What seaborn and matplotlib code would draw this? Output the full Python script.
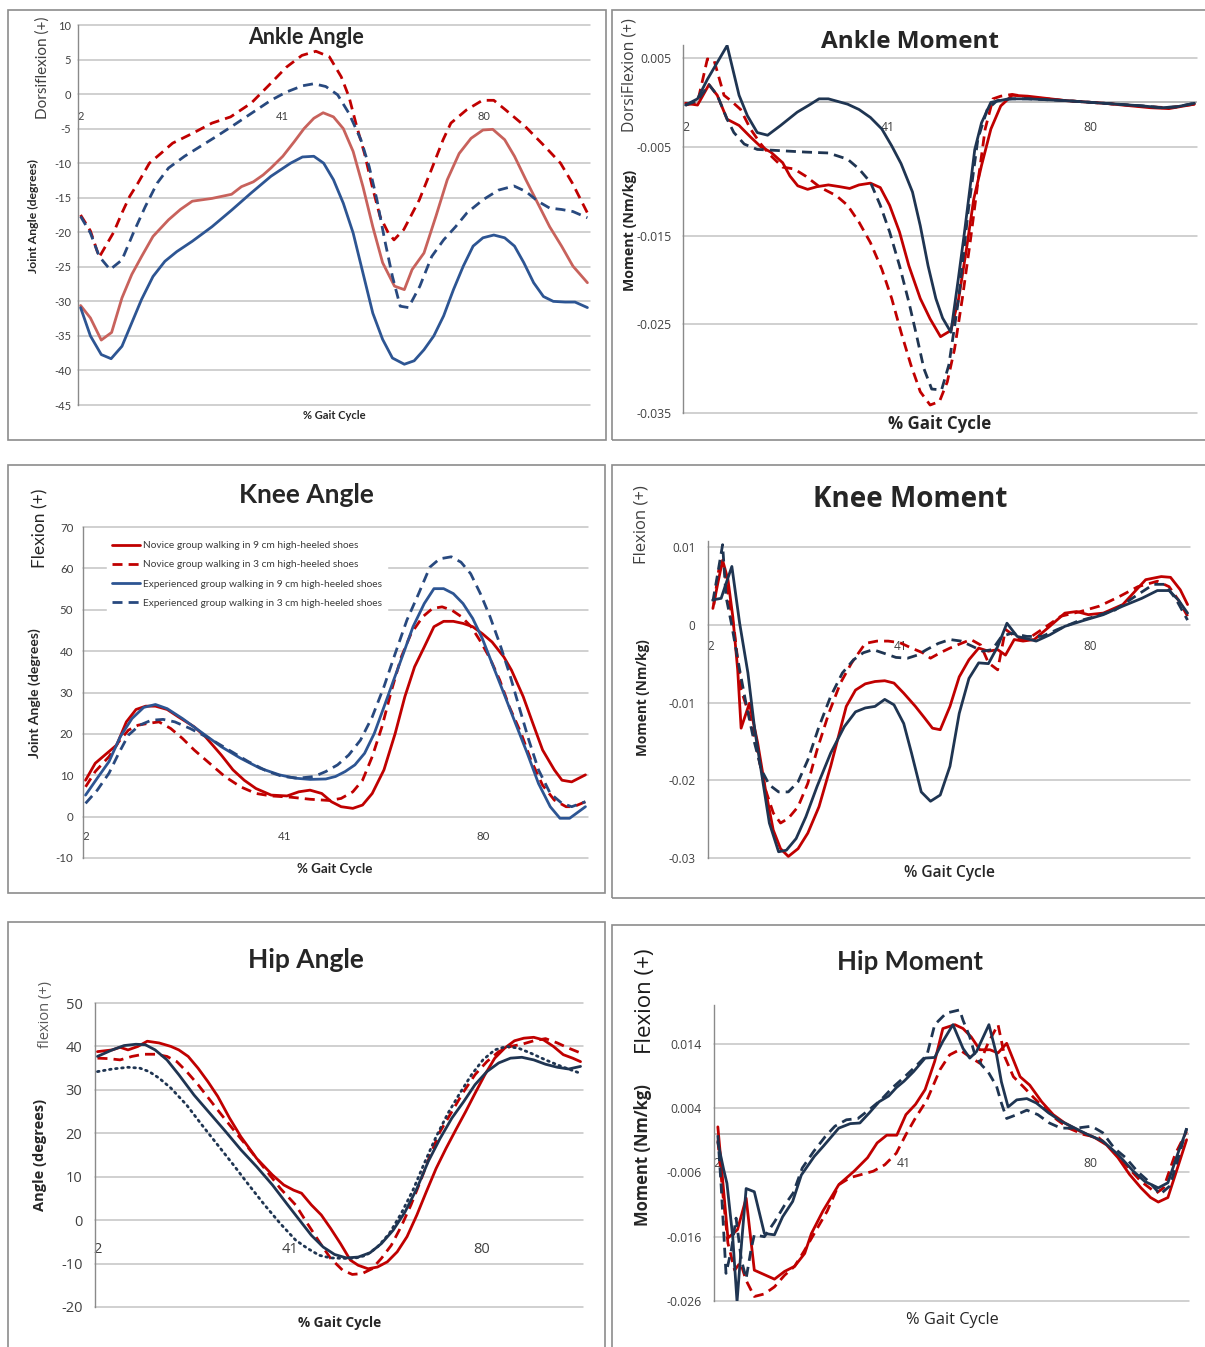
import matplotlib
matplotlib.use("Agg")
import matplotlib.pyplot as plt
from matplotlib.lines import Line2D
from matplotlib.patches import Rectangle
import seaborn as sns

sns.set_theme(style="white")
plt.rcParams['font.family'] = ['Lato', 'DejaVu Sans']

# ---------------------------------------------------------------- data
GAIT_TICKS = [2, 41, 80]
SERIES_NAMES = [
    "Novice group walking in 9 cm high-heeled shoes",
    "Novice group walking in 3 cm high-heeled shoes",
    "Experienced group walking in 9 cm high-heeled shoes",
    "Experienced group walking in 3 cm high-heeled shoes",
]

# Ankle angle (degrees)
AA_N9 = [(2, -30.6), (3.9, -32.4), (6, -35.6), (8, -34.5), (10, -29.5), (11.9, -26.1), (13.8, -23.5),
         (16, -20.6), (19, -18.2), (21.3, -16.7), (23.6, -15.5), (27.4, -15.1), (31.2, -14.5),
         (33.1, -13.4), (35.4, -12.7), (37.3, -11.7), (38.8, -10.7), (41.1, -9.0), (43.3, -6.9),
         (45.2, -5.0), (47.1, -3.5), (48.9, -2.7), (50.9, -3.3), (52.8, -5.0), (54.7, -8.3),
         (56.6, -13.4), (58.5, -19.2), (60.4, -24.4), (62.7, -27.8), (64.6, -28.3), (66.1, -25.4),
         (68.4, -23.0), (70.7, -17.7), (72.9, -12.4), (75.2, -8.6), (77.5, -6.4), (79.8, -5.2),
         (81.7, -5.1), (84, -6.6), (85.9, -9.0), (88.1, -12.4), (90.4, -15.8), (92.7, -19.2),
         (95, -22.0), (97.2, -24.9), (100, -27.3)]
AA_N3 = [(2, -17.5), (3.9, -19.8), (5.6, -23.6), (8.4, -20.0), (10, -17.2), (11.5, -14.8), (13, -13.0),
         (15.3, -10.0), (17.5, -8.6), (19.8, -7.1), (23.6, -5.7), (27.4, -4.2), (31, -3.3), (35, -1.3),
         (38.7, 1.5), (41.8, 3.9), (44.8, 5.6), (47.5, 6.2), (50.1, 5.4), (52.4, 2.5), (53.9, -0.4),
         (55.4, -4.7), (56.9, -8.6), (58.4, -13.4), (59.9, -17.7), (61.5, -20.1), (62.6, -21.1),
         (64.5, -19.6), (67.5, -15.3), (69.8, -11.0), (72.1, -6.6), (73.6, -4.2), (76.6, -2.3),
         (79.7, -0.9), (81.9, -0.9), (84.2, -2.3), (88, -4.7), (91.8, -7.6), (94.8, -10.0),
         (97.1, -12.9), (100, -17.2)]
AA_E9 = [(2, -30.9), (3.9, -35.0), (6, -37.7), (7.9, -38.3), (10, -36.5), (11.9, -33.1), (13.8, -29.7),
         (16, -26.4), (18.3, -24.2), (20.6, -22.8), (23.6, -21.3), (27.4, -19.2), (31.2, -16.8),
         (35, -14.3), (38.8, -11.9), (42.6, -10.0), (44.9, -9.1), (47.1, -9.0), (49, -10.0),
         (50.9, -12.4), (52.8, -15.8), (54.7, -20.1), (56.6, -25.9), (58.5, -31.7), (60.4, -35.5),
         (62.3, -38.2), (64.6, -39.1), (66.5, -38.6), (68.4, -37.0), (70.3, -35.0), (72.2, -32.1),
         (74.1, -28.3), (76, -24.9), (77.9, -22.0), (79.8, -20.8), (81.9, -20.4), (84, -20.8),
         (85.9, -22.0), (87.7, -24.4), (89.6, -27.3), (91.5, -29.3), (93.4, -30.0), (95.7, -30.1),
         (97.6, -30.1), (100, -30.9)]
AA_E3 = [(2, -17.7), (3.9, -20.1), (5.6, -23.5), (7.7, -25.4), (10, -24.0), (12.2, -20.1), (14.5, -16.3),
         (16.8, -12.9), (19, -10.7), (22.1, -9.0), (25.1, -7.6), (28.1, -6.2), (31.2, -4.7), (35, -2.8),
         (38.8, -0.9), (41.8, 0.3), (44.9, 1.2), (47.1, 1.5), (49.4, 1.1), (51.7, -0.1), (53.9, -2.8),
         (56.2, -6.6), (57.8, -10.5), (59.3, -15.3), (60.8, -21.1), (62.3, -26.4), (63.8, -30.7),
         (65.4, -30.9), (67.6, -27.8), (69.9, -23.5), (72.2, -21.1), (74.5, -19.2), (76.7, -17.2),
         (79.8, -15.3), (82.8, -13.9), (85.8, -13.3), (88.1, -14.1), (90.4, -15.5), (92.7, -16.5),
         (95, -16.7), (97.2, -17.0), (100, -17.9)]

# Ankle moment (Nm/kg)
AM_N9 = [(2, -0.0001), (4.3, -0.0003), (6.5, 0.0020), (8.1, 0.0008), (10, -0.0019), (12.3, -0.0026),
         (14.5, -0.0039), (16.5, -0.0050), (18.4, -0.0056), (20.7, -0.0068), (22.1, -0.0083),
         (23.6, -0.0094), (25.5, -0.0098), (27.3, -0.0095), (29.5, -0.0093), (31.7, -0.0095),
         (33.6, -0.0097), (35.4, -0.0093), (37.6, -0.0091), (39.5, -0.0096), (41.3, -0.0116),
         (43.2, -0.0146), (45, -0.0184), (47.2, -0.0221), (49.1, -0.0244), (51.1, -0.0264),
         (53.1, -0.0257), (54.6, -0.0221), (56.1, -0.0165), (57.5, -0.0109), (59, -0.0071),
         (60.8, -0.0030), (62.7, -0.0004), (64.9, 0.0008), (67.9, 0.0007), (75.2, 0.0002),
         (82.6, -0.0001), (91.5, -0.0006), (95.1, -0.0007), (100, -0.0002)]
AM_N3 = [(2, -0.0003), (4.3, 0.0000), (6.2, 0.0049), (7.5, 0.0047), (9.4, 0.0008), (10.7, 0.0002),
         (12.6, -0.0008), (14.5, -0.0030), (16.5, -0.0047), (18.4, -0.0060), (20.7, -0.0073),
         (22.9, -0.0075), (25.1, -0.0083), (28, -0.0096), (31, -0.0105), (33.2, -0.0116),
         (35.4, -0.0135), (37.6, -0.0158), (39.8, -0.0188), (41.7, -0.0221), (43.5, -0.0259),
         (45.4, -0.0296), (47.2, -0.0326), (49.1, -0.0341), (50.9, -0.0337), (52.4, -0.0315),
         (53.8, -0.0278), (55.3, -0.0221), (56.8, -0.0158), (58.3, -0.0090), (59.7, -0.0030),
         (61.2, 0.0004), (62.7, 0.0007), (64.9, 0.0009), (67.9, 0.0006), (75.2, 0.0002),
         (82.6, -0.0001), (91.5, -0.0005), (95.1, -0.0006), (100, -0.0002)]
AM_E9 = [(2, -0.0003), (4.3, 0.0004), (6.2, 0.0026), (10, 0.0064), (12.3, 0.0008), (13.9, -0.0015),
         (15.8, -0.0034), (17.8, -0.0037), (20.3, -0.0026), (23.5, -0.0011), (25.8, -0.0003),
         (27.7, 0.0004), (29.5, 0.0004), (33.2, -0.0002), (35.4, -0.0008), (37.6, -0.0017),
         (39.8, -0.0030), (41.7, -0.0049), (43.5, -0.0069), (45.7, -0.0101), (47.2, -0.0139),
         (48.7, -0.0184), (50.2, -0.0221), (51.5, -0.0243), (53.1, -0.0259), (54.5, -0.0200),
         (55.7, -0.0147), (57.7, -0.0053), (59, -0.0023), (60.8, 0.0000), (64.2, 0.0004),
         (67.9, 0.0004), (75.2, 0.0002), (82.6, -0.0001), (90, -0.0004), (93.7, -0.0006),
         (96.6, -0.0005), (100, -0.0001)]
AM_E3 = [(2, -0.0003), (4.3, 0.0002), (6.5, 0.0020), (8.1, 0.0008), (10, -0.0019), (11.3, -0.0034),
         (13.3, -0.0047), (15.8, -0.0053), (19, -0.0054), (25.1, -0.0056), (29.5, -0.0057),
         (33.2, -0.0064), (35.4, -0.0075), (37.6, -0.0090), (39.5, -0.0116), (41.3, -0.0146),
         (43.2, -0.0184), (45, -0.0225), (46.5, -0.0263), (47.9, -0.0300), (49.4, -0.0323),
         (51.3, -0.0324), (52.7, -0.0296), (54.6, -0.0221), (56.4, -0.0124), (58.3, -0.0041),
         (60.1, -0.0008), (62, 0.0002), (64.9, 0.0004), (67.9, 0.0004), (75.2, 0.0002),
         (82.6, -0.0001), (90, -0.0004), (93.7, -0.0006), (96.6, -0.0005), (100, -0.0001)]

# Knee angle (degrees)
KA_N9 = [(2, 8.8), (3.9, 12.9), (5.8, 14.9), (8.1, 17.3), (10, 22.9), (11.9, 25.9), (13.8, 26.7),
         (15.7, 26.7), (18, 25.9), (20.2, 24.1), (23.3, 21.7), (25.5, 19.3), (28.6, 14.9), (30.9, 11.3),
         (33.1, 8.8), (35.4, 6.8), (38.4, 5.2), (41.5, 5.0), (43.8, 6.0), (46, 6.4), (48.3, 5.6),
         (50.2, 3.6), (52.1, 2.4), (54.4, 2.0), (56.3, 2.8), (58.2, 5.6), (60.5, 11.3), (62.7, 20.1),
         (64.6, 29.0), (66.5, 36.2), (68.4, 41.0), (70.3, 45.9), (72.2, 47.2), (74.1, 47.2),
         (76, 46.7), (77.9, 45.9), (79.8, 44.2), (81.7, 42.2), (84, 38.6), (85.5, 35.4), (87.8, 29.0),
         (89.7, 22.5), (91.6, 16.1), (93.9, 11.3), (95.4, 8.8), (97.3, 8.4), (100, 10.1)]
KA_N3 = [(2, 7.2), (3.9, 10.9), (6.6, 14.5), (8.5, 18.1), (10.4, 20.9), (12.3, 22.1), (14.1, 22.5),
         (16.4, 22.9), (18.7, 21.3), (21, 18.9), (23.3, 16.1), (26.3, 12.9), (29.3, 9.7), (32.4, 7.2),
         (35.4, 5.6), (38.4, 5.0), (42.2, 4.7), (46, 4.2), (49.8, 3.9), (52.1, 4.4), (54.4, 6.0),
         (56.3, 8.8), (58.2, 14.5), (60.1, 21.7), (62, 30.6), (63.9, 38.6), (65.8, 44.2), (68.1, 48.3),
         (70, 50.3), (71.9, 50.7), (73.8, 49.9), (75.7, 48.3), (77.6, 45.9), (79.5, 42.2), (81.3, 38.2),
         (83.2, 33.0), (85.1, 26.5), (87.4, 20.1), (89.3, 13.7), (91.6, 7.6), (93.9, 4.0), (96.2, 2.4),
         (97.7, 2.4), (100, 3.6)]
KA_E9 = [(2, 5.2), (4.3, 9.3), (6.6, 13.3), (8.8, 19.3), (11.1, 23.7), (13.4, 26.4), (15.7, 27.1),
         (18, 26.1), (21, 23.7), (24.8, 20.3), (28.6, 16.9), (32.4, 14.1), (36.2, 11.7), (40, 10.1),
         (43, 9.3), (46, 9.0), (49.1, 9.1), (51, 9.7), (52.9, 10.9), (54.8, 12.5), (56.7, 15.3),
         (58.6, 20.1), (60.5, 26.5), (62.4, 33.0), (64.3, 39.4), (66.2, 45.9), (68.4, 51.5), (70.3, 55.1),
         (72.2, 55.1), (74.1, 53.9), (76, 51.5), (77.9, 47.9), (79.8, 43.0), (81.7, 37.0), (84, 29.8),
         (86.3, 22.5), (88.6, 15.3), (90.8, 8.0), (93.1, 2.4), (95, -0.4), (96.9, -0.4), (100, 2.4)]
KA_E3 = [(2, 3.2), (4.3, 6.4), (6.6, 10.5), (8.5, 15.3), (10.4, 19.7), (12.6, 22.1), (14.9, 23.3),
         (17.2, 23.5), (19.5, 22.9), (22.5, 21.3), (26.3, 18.9), (30.1, 16.1), (33.9, 13.3), (37.7, 10.9),
         (40.7, 9.7), (43.8, 9.3), (46.8, 9.7), (49.1, 10.9), (51.4, 12.5), (53.6, 14.9), (55.9, 18.5),
         (58.2, 24.1), (60.5, 31.4), (62.7, 39.4), (65, 47.5), (67.3, 53.9), (69.5, 60.3), (71.4, 62.3),
         (73.7, 62.8), (75.6, 61.5), (77.5, 58.7), (79.4, 53.9), (81.3, 48.3), (83.2, 41.8), (85.1, 34.6),
         (87, 26.5), (88.9, 18.5), (90.8, 11.3), (93.1, 5.6), (95.4, 3.2), (97.3, 2.4), (100, 3.6)]

# Knee moment (Nm/kg)
KM_N9 = [(2.5, 0.0021), (3.5, 0.0053), (4.5, 0.0083), (5.6, 0.0058), (6.6, 0.0010), (7.6, -0.0058),
         (8.3, -0.0133), (10, -0.0101), (11.7, -0.0152), (13.3, -0.0212), (14.9, -0.0264),
         (16.4, -0.0288), (18, -0.0298), (20, -0.0288), (22, -0.0268), (24.3, -0.0234), (26.7, -0.0182),
         (29.9, -0.0105), (31.8, -0.0084), (33.8, -0.0076), (35.8, -0.0073), (37.8, -0.0072),
         (39.7, -0.0075), (41.7, -0.0088), (44.1, -0.0105), (46, -0.0120), (47.6, -0.0133),
         (49.2, -0.0135), (51.2, -0.0105), (53.1, -0.0067), (55.1, -0.0045), (57.1, -0.0030),
         (59.1, -0.0034), (61, -0.0032), (62.6, -0.0039), (64.4, -0.0019), (66.2, -0.0021),
         (68.5, -0.0019), (71.7, -0.0002), (74.8, 0.0015), (77.2, 0.0017), (79.6, 0.0013),
         (82.7, 0.0015), (86.7, 0.0026), (91.4, 0.0058), (94.6, 0.0062), (96.5, 0.0061),
         (98.5, 0.0045), (100, 0.0026)]
KM_N3 = [(2.7, 0.0026), (3.7, 0.0070), (4.7, 0.0079), (5.7, 0.0037), (6.9, -0.0007), (8.3, -0.0084),
         (10.1, -0.0118), (11.7, -0.0165), (13.3, -0.0212), (14.9, -0.0242), (16.4, -0.0255),
         (18, -0.0249), (20, -0.0234), (22, -0.0204), (23.9, -0.0161), (26.3, -0.0114), (28.7, -0.0075),
         (31, -0.0049), (33.8, -0.0024), (36.2, -0.0021), (38.5, -0.0021), (40.9, -0.0023),
         (43.3, -0.0030), (45.6, -0.0036), (47.2, -0.0043), (49.2, -0.0036), (51.2, -0.0030),
         (53.5, -0.0024), (55.5, -0.0019), (57.5, -0.0026), (59.1, -0.0049), (61, -0.0058),
         (62.6, -0.0006), (65, -0.0017), (67, -0.0019), (70.1, -0.0006), (74, 0.0011), (78, 0.0017),
         (81.9, 0.0024), (85.9, 0.0036), (89.8, 0.0049), (93.8, 0.0056), (96.2, 0.0049),
         (98.1, 0.0032), (100, 0.0011)]
KM_E9 = [(2.5, 0.0032), (4.2, 0.0034), (5.2, 0.0053), (6.4, 0.0075), (8, 0.0002), (9.7, -0.0062),
         (11.1, -0.0135), (12.5, -0.0191), (14.1, -0.0255), (16, -0.0292), (17.6, -0.0290),
         (19.6, -0.0275), (21.6, -0.0247), (23.9, -0.0208), (26.7, -0.0165), (29.5, -0.0131),
         (31.8, -0.0112), (33.8, -0.0107), (35.8, -0.0105), (37.8, -0.0096), (39.7, -0.0103),
         (41.7, -0.0127), (43.3, -0.0165), (45.3, -0.0215), (47.2, -0.0227), (49.2, -0.0219),
         (51.2, -0.0182), (53.1, -0.0114), (55.1, -0.0069), (57.1, -0.0049), (59.1, -0.0050),
         (61, -0.0028), (62.9, 0.0002), (65, -0.0015), (67, -0.0018), (68.9, -0.0021),
         (71.7, -0.0013), (74.8, -0.0002), (78.9, 0.0006), (82.7, 0.0013), (86.7, 0.0024),
         (90.6, 0.0034), (93.8, 0.0044), (96.2, 0.0044), (98.1, 0.0032), (100, 0.0015)]
KM_E3 = [(2.5, 0.0030), (3.5, 0.0066), (4.5, 0.0103), (5.2, 0.0036), (6.3, 0.0002), (8, -0.0058),
         (9.3, -0.0101), (10.9, -0.0148), (12.5, -0.0187), (14.1, -0.0206), (16, -0.0215),
         (18, -0.0215), (20, -0.0202), (22, -0.0174), (24.3, -0.0131), (26.7, -0.0092), (29.1, -0.0062),
         (31.4, -0.0045), (33.4, -0.0036), (35.4, -0.0032), (37.8, -0.0037), (40.1, -0.0042),
         (42.5, -0.0043), (44.5, -0.0039), (46.4, -0.0032), (48.8, -0.0024), (51.2, -0.0019),
         (53.5, -0.0021), (55.9, -0.0028), (57.9, -0.0034), (59.9, -0.0032), (61.8, -0.0015),
         (63.8, -0.0011), (67, -0.0015), (70.1, -0.0015), (73.3, -0.0006), (77.2, 0.0004),
         (81.2, 0.0011), (85.1, 0.0019), (89.1, 0.0036), (93, 0.0052), (95.4, 0.0052),
         (97.7, 0.0032), (100, 0.0006)]

# Hip angle (degrees)
HA_N9 = [(2, 38.8), (5, 39.2), (6.6, 39.8), (8.2, 39.2), (10.2, 40.0), (12.1, 41.2), (14.5, 40.8),
         (16.9, 40.0), (18.5, 39.2), (20.4, 37.7), (22.4, 35.0), (24.4, 31.9), (26.4, 28.5), (28.8, 23.5),
         (31.1, 19.2), (34.3, 14.2), (37.5, 10.4), (39.8, 8.1), (41.8, 6.9), (43.4, 6.2), (45.4, 3.5),
         (47.4, 1.2), (49.3, -1.9), (51.3, -5.4), (53.3, -9.2), (54.9, -10.4), (56.9, -11.2),
         (58.8, -10.8), (60.8, -9.6), (62.8, -7.3), (64.8, -3.8), (66.8, 1.2), (68.7, 6.5), (70.7, 11.9),
         (72.7, 16.5), (74.7, 20.8), (76.7, 25.0), (78.6, 29.2), (80.6, 33.5), (82.6, 37.3), (84.6, 39.6),
         (86.6, 41.3), (88.5, 41.9), (90.5, 42.1), (92.5, 41.5), (94.5, 40.0), (96.5, 38.1), (98.4, 37.3),
         (100, 36.5)]
HA_N3 = [(2, 37.3), (4.2, 37.2), (6.6, 36.9), (9, 37.7), (11.3, 38.2), (13.7, 38.2), (16.1, 37.7),
         (18.1, 36.5), (20.1, 34.2), (22.4, 31.2), (24.8, 27.7), (27.2, 24.2), (29.6, 20.8), (32.7, 16.5),
         (35.9, 11.9), (39.1, 7.3), (42.2, 3.5), (44.6, -0.8), (47, -5.0), (49.3, -8.8), (51.7, -11.5),
         (53.7, -12.5), (55.7, -12.3), (57.7, -11.2), (59.6, -8.8), (61.6, -5.8), (63.6, -1.5),
         (65.6, 3.5), (67.6, 9.2), (69.5, 15.0), (71.5, 20.4), (73.9, 25.0), (76.3, 29.6), (78.6, 33.5),
         (81, 36.5), (83.4, 38.8), (85.8, 40.0), (88.1, 40.5), (90.5, 41.3), (92.9, 41.8), (95.3, 40.8),
         (97.6, 39.6), (100, 38.5)]
HA_E9 = [(2, 37.7), (5, 39.2), (7.4, 40.2), (9.8, 40.5), (11.7, 40.4), (13.7, 39.2), (16.1, 36.9),
         (18.5, 33.5), (21.6, 28.8), (24.8, 24.6), (28, 20.4), (31.1, 16.2), (34.3, 12.3), (37.5, 8.1),
         (40.6, 3.5), (43, 0.0), (45.4, -3.5), (47.8, -6.2), (50.1, -7.9), (52.5, -8.7), (54.9, -8.5),
         (57.3, -7.5), (59.6, -5.4), (62, -2.3), (64.4, 1.9), (66.8, 7.3), (69.1, 13.5), (71.5, 18.8),
         (73.9, 23.5), (76.3, 27.3), (78.6, 31.2), (81, 34.2), (83.4, 36.2), (85.8, 37.3), (88.1, 37.5),
         (90.5, 36.9), (92.9, 35.9), (95.3, 35.2), (97.6, 34.8), (100, 35.4)]
HA_E3 = [(2, 34.2), (5, 34.8), (8.2, 35.2), (10.6, 35.0), (12.5, 34.2), (14.5, 32.7), (16.9, 30.4),
         (20.1, 26.5), (23.2, 21.9), (26.4, 17.3), (29.6, 12.7), (32.7, 8.1), (35.9, 3.5), (39.1, -0.8),
         (42.2, -4.6), (44.6, -6.5), (47, -8.1), (49.3, -8.7), (51.7, -8.8), (54.1, -8.8), (56.5, -8.1),
         (58.8, -6.2), (61.2, -3.1), (63.6, 1.5), (66, 6.9), (68.3, 13.1), (70.7, 19.2), (73.1, 24.6),
         (75.5, 29.2), (77.9, 33.5), (80.2, 36.9), (82.6, 39.2), (85, 40.0), (87.4, 39.6), (89.8, 38.5),
         (92.9, 36.9), (96.1, 35.4), (100, 33.8)]

# Hip moment (Nm/kg)
HM_N9 = [(2.3, 0.0011), (4.4, -0.0162), (6.4, -0.0149), (8.2, -0.0100), (9.9, -0.0212), (14.1, -0.0226),
         (16.2, -0.0214), (18.3, -0.0206), (20.4, -0.0186), (21.8, -0.0155), (24.2, -0.0120),
         (27.5, -0.0079), (30.7, -0.0058), (33.5, -0.0037), (35.5, -0.0014), (37.5, -0.0002),
         (39.6, -0.0002), (41.5, 0.0030), (43.5, 0.0046), (45.5, 0.0069), (47.5, 0.0113), (49.2, 0.0164),
         (51.7, 0.0170), (53.4, 0.0164), (55.1, 0.0151), (56.9, 0.0131), (59, 0.0131), (60.7, 0.0126),
         (62.5, 0.0141), (65.3, 0.0089), (67.3, 0.0076), (69.8, 0.0050), (72.2, 0.0030), (74.6, 0.0017),
         (77.8, 0.0004), (80.9, -0.0006), (83.3, -0.0017), (85.7, -0.0037), (88.1, -0.0063),
         (90.5, -0.0084), (92.5, -0.0099), (94.1, -0.0106), (96.1, -0.0099), (98.1, -0.0053),
         (100, -0.0009)]
HM_N3 = [(2.3, -0.0010), (3.3, -0.0090), (4.4, -0.0170), (5.8, -0.0212), (7, -0.0200), (8.2, -0.0228),
         (9.9, -0.0253), (12, -0.0249), (14.1, -0.0238), (16.2, -0.0220), (18.3, -0.0206),
         (20.3, -0.0182), (22.7, -0.0151), (25.1, -0.0120), (27.5, -0.0079), (29.9, -0.0068),
         (32.3, -0.0063), (34.7, -0.0058), (37.1, -0.0048), (39.5, -0.0030), (41.5, -0.0001),
         (43.5, 0.0025), (45.9, 0.0053), (48.6, 0.0100), (50.6, 0.0123), (52.7, 0.0131), (54.8, 0.0120),
         (56.9, 0.0110), (58.6, 0.0141), (60.7, 0.0170), (62.1, 0.0120), (63.9, 0.0089), (65.9, 0.0074),
         (68.2, 0.0056), (70.6, 0.0038), (73, 0.0022), (75.4, 0.0009), (78.6, -0.0001), (81.7, -0.0006),
         (84.1, -0.0022), (87.3, -0.0048), (90.5, -0.0074), (93.7, -0.0092), (95.2, -0.0084),
         (97.6, -0.0032), (100, 0.0004)]
HM_E9 = [(2.3, -0.0013), (3.5, -0.0055), (4.2, -0.0077), (5.4, -0.0160), (6.3, -0.0261), (7.3, -0.0165),
         (8.2, -0.0085), (9.9, -0.0090), (12, -0.0155), (14.1, -0.0157), (15.8, -0.0129), (17.9, -0.0105),
         (19.7, -0.0064), (22.4, -0.0035), (24.3, -0.0019), (27.5, 0.0009), (29.9, 0.0016), (31.9, 0.0017),
         (33.9, 0.0033), (35.9, 0.0050), (37.9, 0.0059), (39.5, 0.0072), (41.1, 0.0082), (43.1, 0.0097),
         (45.5, 0.0118), (47.5, 0.0119), (49.2, 0.0144), (51.3, 0.0170), (53.4, 0.0133), (54.8, 0.0118),
         (56.2, 0.0128), (58.8, 0.0170), (60.4, 0.0123), (61.4, 0.0081), (62.8, 0.0042), (64.6, 0.0053),
         (66.7, 0.0055), (68.7, 0.0048), (71.2, 0.0033), (73.8, 0.0020), (76.2, 0.0011), (79.4, -0.0001),
         (82.5, -0.0011), (85.7, -0.0032), (88.9, -0.0058), (91.3, -0.0074), (94.1, -0.0084),
         (96.1, -0.0076), (98.1, -0.0032), (100, 0.0007)]
HM_E3 = [(2.3, -0.0002), (3, -0.0082), (4, -0.0217), (5.1, -0.0181), (6.1, -0.0131), (7.2, -0.0196),
         (8.2, -0.0225), (9.2, -0.0181), (9.9, -0.0157), (12, -0.0160), (14.1, -0.0137), (16.2, -0.0111),
         (18, -0.0092), (19.9, -0.0053), (22.3, -0.0027), (24.7, -0.0004), (26.7, 0.0012), (29.1, 0.0022),
         (31.5, 0.0024), (33.9, 0.0038), (36.3, 0.0053), (38.7, 0.0072), (41.1, 0.0088), (43.5, 0.0105),
         (45.9, 0.0123), (47.5, 0.0170), (49.9, 0.0188), (52.7, 0.0193), (53.4, 0.0177), (54.8, 0.0151),
         (55.9, 0.0123), (57.3, 0.0107), (58.6, 0.0097), (60.4, 0.0074), (61.4, 0.0048), (62.5, 0.0024),
         (64.6, 0.0030), (66.7, 0.0037), (69, 0.0030), (71.4, 0.0017), (73.8, 0.0009), (77, 0.0009),
         (80.2, 0.0012), (82.5, 0.0002), (84.9, -0.0022), (87.3, -0.0037), (89.7, -0.0058),
         (92.1, -0.0074), (94.5, -0.0094), (96.5, -0.0081), (98.5, -0.0032), (100, 0.0009)]

# ---------------------------------------------------------------- styling
W, H = 1205, 1347
fig = plt.figure(figsize=(W / 100, H / 100), dpi=100)
fig.patch.set_facecolor("white")

SOLID = "-"
DASH = (0, (3.6, 2.2))
DOT = (0, (0.6, 1.6))
RED = "#C00000"
RED_L = "#C8625C"
BLUE = "#2D5593"
BLUE_D = "#28497F"
NAVY = "#1F3552"
GRID = "#C4C4C4"
TXT = "#404040"
CALIBRI = ["Lato", "DejaVu Sans"]
MALGUN = ["Open Sans", "DejaVu Sans"]
LW = 2.0


def T(x, y, s, **kw):
    fig.text(x / W, 1 - y / H, s, ha="center", va="center", **kw)


def frame(l, t, r, b):
    fig.patches.append(Rectangle((l / W, 1 - b / H), (r - l) / W, (b - t) / H,
                                 transform=fig.transFigure, fill=False,
                                 edgecolor="#8C8C8C", lw=1.2))


def panel(l, r, t, b, ylim, yticks, ylabels, grids, series, colors, styles,
          tick_fs, tick_font, xoff, pad, zero=False):
    ax = fig.add_axes([l / W, 1 - b / H, (r - l) / W, (b - t) / H])
    for pts, c, ls in zip(series, colors, styles):
        xs = [p[0] for p in pts]
        ys = [p[1] for p in pts]
        kw = dict(dash_capstyle="round") if ls == DOT else {}
        sns.lineplot(x=xs, y=ys, ax=ax, color=c, linewidth=LW, linestyle=ls,
                     estimator=None, sort=False, legend=False, zorder=3, **kw)
    ax.set_xlim(1.5, 100.5)
    ax.set_ylim(*ylim)
    ax.set_xticks([])
    ax.set_yticks(yticks)
    ax.set_yticklabels(ylabels, fontfamily=tick_font)
    ax.set_xlabel("")
    ax.set_ylabel("")
    ax.grid(False)
    for s in ["top", "right", "bottom"]:
        ax.spines[s].set_visible(False)
    ax.spines["left"].set_color("#8A8A8A")
    ax.spines["left"].set_linewidth(1.0)
    for g in grids:
        ax.axhline(g, color=GRID, lw=1.1, zorder=1, clip_on=False)
    if zero:
        ax.axhline(0, color="#A6A6A6", lw=1.1, zorder=1)
    ax.tick_params(axis="y", length=0, pad=pad, labelsize=tick_fs, labelcolor=TXT)
    for v in GAIT_TICKS:
        ax.annotate(str(v), xy=(v, 0), xycoords="data", xytext=(0, -xoff),
                    textcoords="offset points", ha="center", va="center",
                    fontsize=tick_fs, color=TXT, fontfamily=tick_font, zorder=2)
    ax.set_facecolor("white")
    return ax


# frames
frame(8, 10, 606, 440)
frame(612, 10, 1210, 440)
frame(8, 465, 605, 893)
frame(612, 465, 1210, 898)
frame(8, 922, 605, 1352)
frame(612, 925, 1210, 1352)

# 1 Ankle angle
panel(78, 590, 25, 405, (-45, 10), list(range(10, -50, -5)),
      [str(v) for v in range(10, -50, -5)], list(range(10, -50, -5)),
      [AA_N9, AA_N3, AA_E9, AA_E3], [RED_L, RED, BLUE, BLUE_D],
      [SOLID, DASH, SOLID, DASH], 8, CALIBRI, 16, 5)
T(306, 37, "Ankle Angle", fontsize=15.5, fontweight="bold", family=CALIBRI)
T(43, 68, "Dorsiflexion (+)", fontsize=11, rotation=90, color=TXT, family=CALIBRI)
T(33, 216, "Joint Angle (degrees)", fontsize=8.8, rotation=90, fontweight="bold", family=CALIBRI)
T(334, 416, "% Gait Cycle", fontsize=8, fontweight="bold", family=CALIBRI)

# 2 Ankle moment
am_ticks = [0.005, -0.005, -0.015, -0.025, -0.035]
panel(683, 1197, 44.7, 413, (-0.035, 0.0065), am_ticks,
      ["0.005", "-0.005", "-0.015", "-0.025", "-0.035"], am_ticks,
      [AM_N9, AM_N3, AM_E9, AM_E3], [RED, RED, NAVY, NAVY],
      [SOLID, DASH, SOLID, DASH], 8.8, MALGUN, 18, 8, zero=True)
T(910, 42, "Ankle Moment", fontsize=17.5, fontweight="bold", family=MALGUN)
T(630, 75, "DorsiFlexion (+)", fontsize=11.3, rotation=90, color=TXT, family=MALGUN)
T(630, 230, "Moment (Nm/kg)", fontsize=10.2, rotation=90, fontweight="bold", family=MALGUN)
T(940, 424, "% Gait Cycle", fontsize=12.2, fontweight="bold", family=MALGUN)

# 3 Knee angle
ka = panel(83, 588, 527, 858, (-10, 70), list(range(70, -20, -10)),
           [str(v) for v in range(70, -20, -10)], list(range(70, -20, -10)),
           [KA_N9, KA_N3, KA_E9, KA_E3], [RED, RED, BLUE, BLUE_D],
           [SOLID, DASH, SOLID, DASH], 8.3, CALIBRI, 14, 7)
T(306, 495, "Knee Angle", fontsize=19, fontweight="bold", family=CALIBRI)
T(40, 528, "Flexion (+)", fontsize=12.5, rotation=90, color="#262626", family=CALIBRI)
T(35, 693, "Joint Angle (degrees)", fontsize=10, rotation=90, fontweight="bold", family=CALIBRI)
T(335, 869, "% Gait Cycle", fontsize=9.6, fontweight="bold", family=CALIBRI)
handles = [Line2D([], [], color=c, lw=LW, linestyle=ls)
           for c, ls in zip([RED, RED, BLUE, BLUE_D], [SOLID, DASH, SOLID, DASH])]
leg = ka.legend(handles, SERIES_NAMES, loc="upper left",
                bbox_to_anchor=((107 - 83) / 505, 1 - (536 - 527) / 331),
                frameon=True, fontsize=7.3, handlelength=2.75, handletextpad=0.3,
                labelspacing=1.0, borderpad=0.5, borderaxespad=0)
leg.get_frame().set_facecolor("white")
leg.get_frame().set_edgecolor("white")
leg.get_frame().set_alpha(1)
leg.set_zorder(2)
for t in leg.get_texts():
    t.set_color("#3A3A3A")
    t.set_fontfamily(CALIBRI)

# 4 Knee moment
km_ticks = [0.01, 0.0, -0.01, -0.02, -0.03]
panel(708, 1190, 540.8, 858, (-0.03, 0.0108), km_ticks,
      ["0.01", "0", "-0.01", "-0.02", "-0.03"], km_ticks,
      [KM_N9, KM_N3, KM_E9, KM_E3], [RED, RED, NAVY, NAVY],
      [SOLID, DASH, SOLID, DASH], 8.5, MALGUN, 16, 9)
T(910, 500, "Knee Moment", fontsize=20, fontweight="bold", family=MALGUN)
T(642, 525, "Flexion (+)", fontsize=12, rotation=90, color=TXT, family=MALGUN)
T(643, 698, "Moment (Nm/kg)", fontsize=9.8, rotation=90, fontweight="bold", family=MALGUN)
T(950, 873, "% Gait Cycle", fontsize=11.2, fontweight="semibold", family=MALGUN)

# 5 Hip angle
panel(95, 583, 1003, 1307, (-20, 50), list(range(50, -30, -10)),
      [str(v) for v in range(50, -30, -10)], list(range(50, -30, -10)),
      [HA_N9, HA_N3, HA_E9, HA_E3], [RED, RED, NAVY, NAVY],
      [SOLID, DASH, SOLID, DOT], 10.5, MALGUN, 21, 9)
T(306, 960, "Hip Angle", fontsize=19, fontweight="bold", family=CALIBRI)
T(45, 1015, "flexion (+)", fontsize=10.5, rotation=90, color="#595959", family=MALGUN)
T(40, 1155, "Angle (degrees)", fontsize=10.5, rotation=90, fontweight="bold", family=MALGUN)
T(340, 1323, "% Gait Cycle", fontsize=9.8, fontweight="bold", family=MALGUN)

# 6 Hip moment
hm_ticks = [0.014, 0.004, -0.006, -0.016, -0.026]
panel(714, 1189, 1005.4, 1301, (-0.026, 0.020), hm_ticks,
      ["0.014", "0.004", "-0.006", "-0.016", "-0.026"], hm_ticks,
      [HM_N9, HM_N3, HM_E9, HM_E3], [RED, RED, NAVY, NAVY],
      [SOLID, DASH, SOLID, DASH], 8.8, MALGUN, 21.5, 9, zero=True)
T(910, 962, "Hip Moment", fontsize=18.5, fontweight="bold", family=CALIBRI)
T(645, 1001, "Flexion (+)", fontsize=16, rotation=90, color="#1A1A1A", family=MALGUN)
T(643, 1155, "Moment (Nm/kg)", fontsize=12, rotation=90, fontweight="bold", family=MALGUN)
T(952, 1320, "% Gait Cycle", fontsize=11.8, family=MALGUN)

fig.savefig("out.png", dpi=100, facecolor="white")
